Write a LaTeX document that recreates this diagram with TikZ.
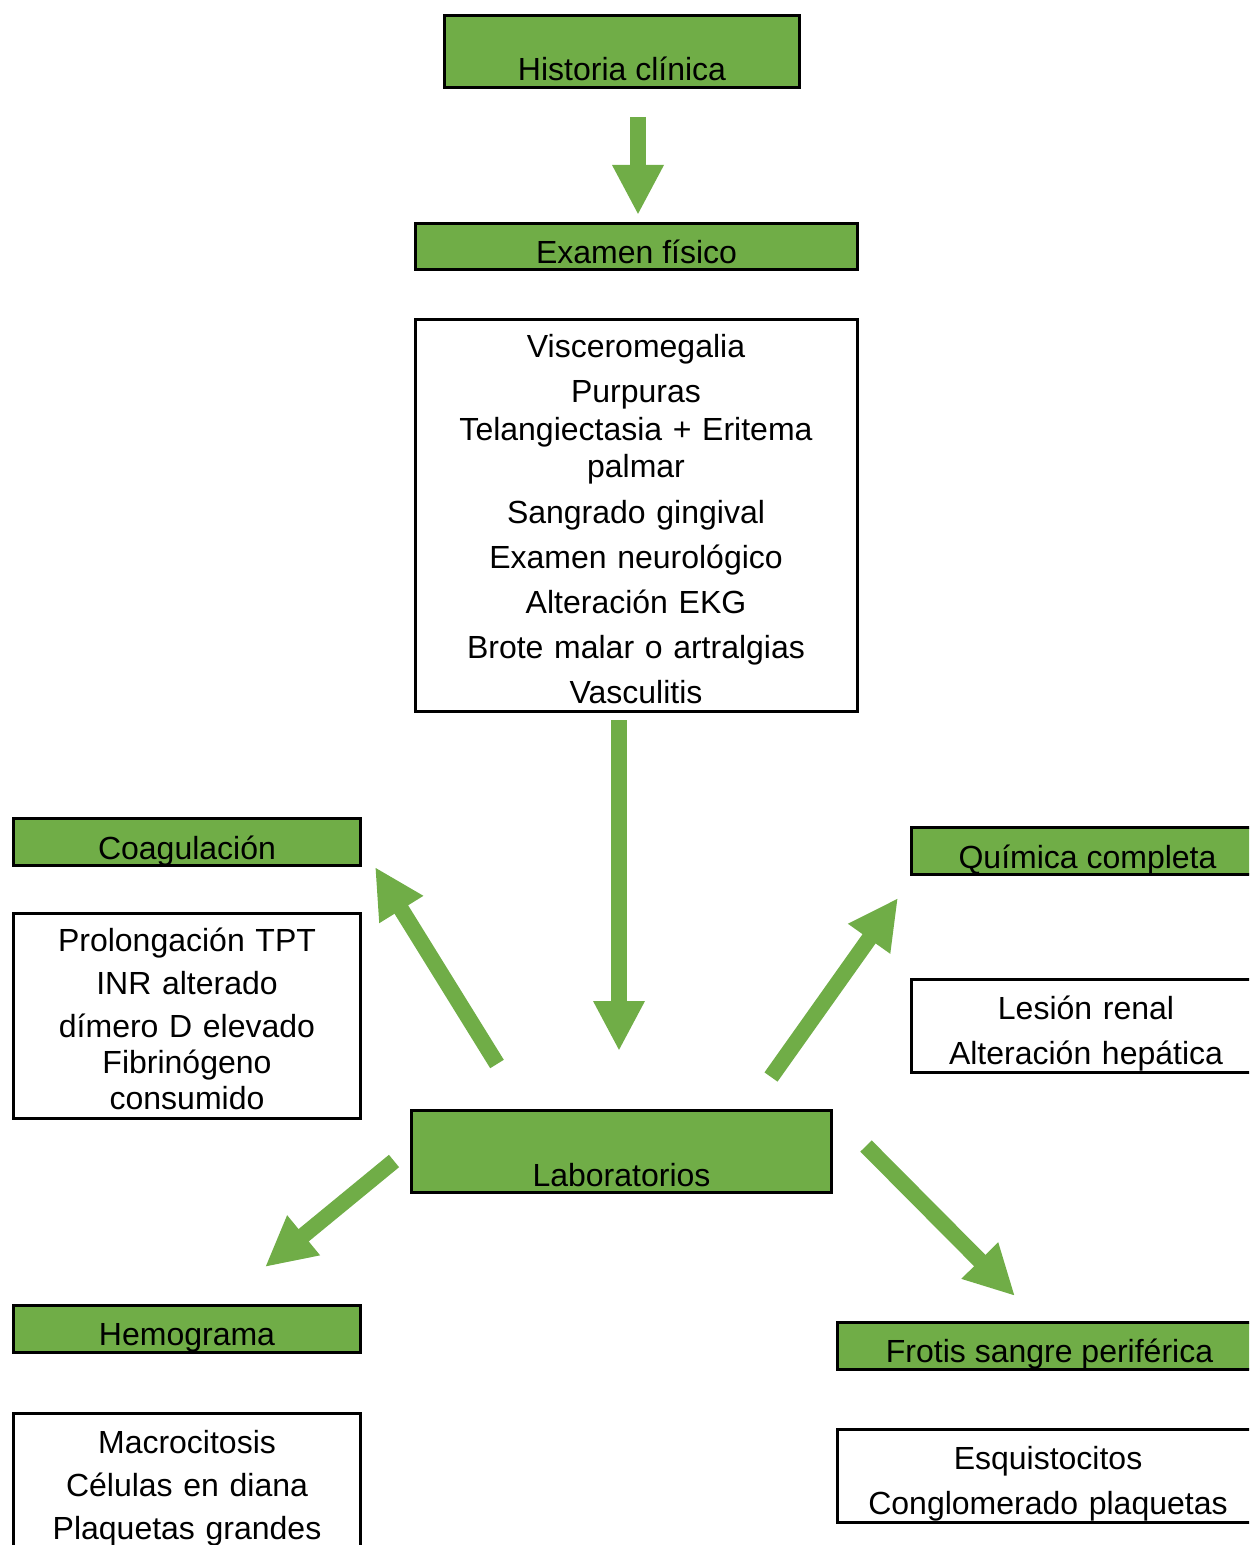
\documentclass[tikz,border=0pt]{standalone}
\usepackage{fontspec}
\setmainfont{Liberation Sans}
\usetikzlibrary{arrows.meta}
\definecolor{appgreen}{HTML}{70AD47}
\tikzset{
  gbox/.style={draw=black, line width=1.5pt, fill=appgreen, inner sep=0pt,
    anchor=north west, font=\fontsize{16pt}{18pt}\selectfont},
  wbox/.style={draw=black, line width=1.5pt, fill=white, inner sep=0pt,
    anchor=north west},
  btext/.style={align=center, inner sep=0pt, anchor=base,
    font=\fontsize{16pt}{18pt}\selectfont},
  barrow/.style={draw=appgreen, line width=8pt, line cap=butt,
    -{Triangle[width=24pt,length=25pt]}}
}
\begin{document}
\begin{tikzpicture}[x=0.5pt, y=-0.5pt]
\useasboundingbox (0,0) rectangle (1249,1545);
\clip (0,0) rectangle (1249,1545);

% header boxes
\node[gbox, minimum width=177.5pt, text height=32.5pt, text depth=3.5pt] (hist) at (443,14) {Historia clínica};
\node[gbox, minimum width=221pt, text height=20pt, text depth=3pt] (exam) at (414,222) {Examen físico};

% findings on examination
\node[wbox, minimum width=221pt, minimum height=196pt] (exambox) at (414,318) {};
\node[btext, text width=219pt] (examtxt) at (636,358) {Visceromegalia\\[4.5pt]
Purpuras\\[1pt]
Telangiectasia + Eritema\\
palmar\\[5pt]
Sangrado gingival\\[4.5pt]
Examen neurológico\\[4.5pt]
Alteración EKG\\[4.5pt]
Brote malar o artralgias\\[4.5pt]
Vasculitis};

% laboratory hub
\node[gbox, minimum width=210pt, text height=38pt, text depth=3pt] (lab) at (410,1109) {Laboratorios};

% coagulation
\node[gbox, minimum width=173.5pt, text height=20.5pt, text depth=3pt] (coag) at (12,817) {Coagulación};
\node[wbox, minimum width=173.5pt, minimum height=102.5pt] (coagbox) at (12,912) {};
\node[btext, text width=171pt] (coagtxt) at (187,951) {Prolongación TPT\\[3.5pt]
INR alterado\\[3.5pt]
dímero D elevado\\
Fibrinógeno\\
consumido};

% chemistry
\node[gbox, minimum width=176pt, text height=20.5pt, text depth=3pt] (quim) at (910,826) {Química completa};
\node[wbox, minimum width=176pt, minimum height=46.5pt] (quimbox) at (910,978) {};
\node[btext, text width=174pt] (quimtxt) at (1086,1019) {Lesión renal\\[4.5pt]
Alteración hepática};

% blood count
\node[gbox, minimum width=173.5pt, text height=20pt, text depth=3.5pt] (hemo) at (12,1304) {Hemograma};
\node[wbox, minimum width=173.5pt, minimum height=80pt] (hemobox) at (12,1412) {};
\node[btext, text width=171pt] (hemotxt) at (187,1453) {Macrocitosis\\[3.5pt]
Células en diana\\[3.5pt]
Plaquetas grandes};

% peripheral smear
\node[gbox, minimum width=212pt, text height=20pt, text depth=3.5pt] (frot) at (836,1321) {Frotis sangre periférica};
\node[wbox, minimum width=212pt, minimum height=46.5pt] (frotbox) at (836,1428) {};
\node[btext, text width=210pt] (frottxt) at (1048,1469) {Esquistocitos\\[4.5pt]
Conglomerado plaquetas};

% arrow end points
\coordinate (a1s) at (638,117);  \coordinate (a1e) at (638,215);
\coordinate (a2s) at (619,720);  \coordinate (a2e) at (619,1051);
\coordinate (acs) at (497,1064); \coordinate (ace) at (375,867);
\coordinate (aqs) at (771,1077); \coordinate (aqe) at (898,898);
\coordinate (ahs) at (394,1161); \coordinate (ahe) at (265,1267);
\coordinate (afs) at (866,1146); \coordinate (afe) at (1015,1296);

\draw[barrow] (a1s) -- (a1e);
\draw[barrow] (a2s) -- (a2e);
\draw[barrow] (acs) -- (ace);
\draw[barrow] (aqs) -- (aqe);
\draw[barrow] (ahs) -- (ahe);
\draw[barrow] (afs) -- (afe);
\end{tikzpicture}
\end{document}
